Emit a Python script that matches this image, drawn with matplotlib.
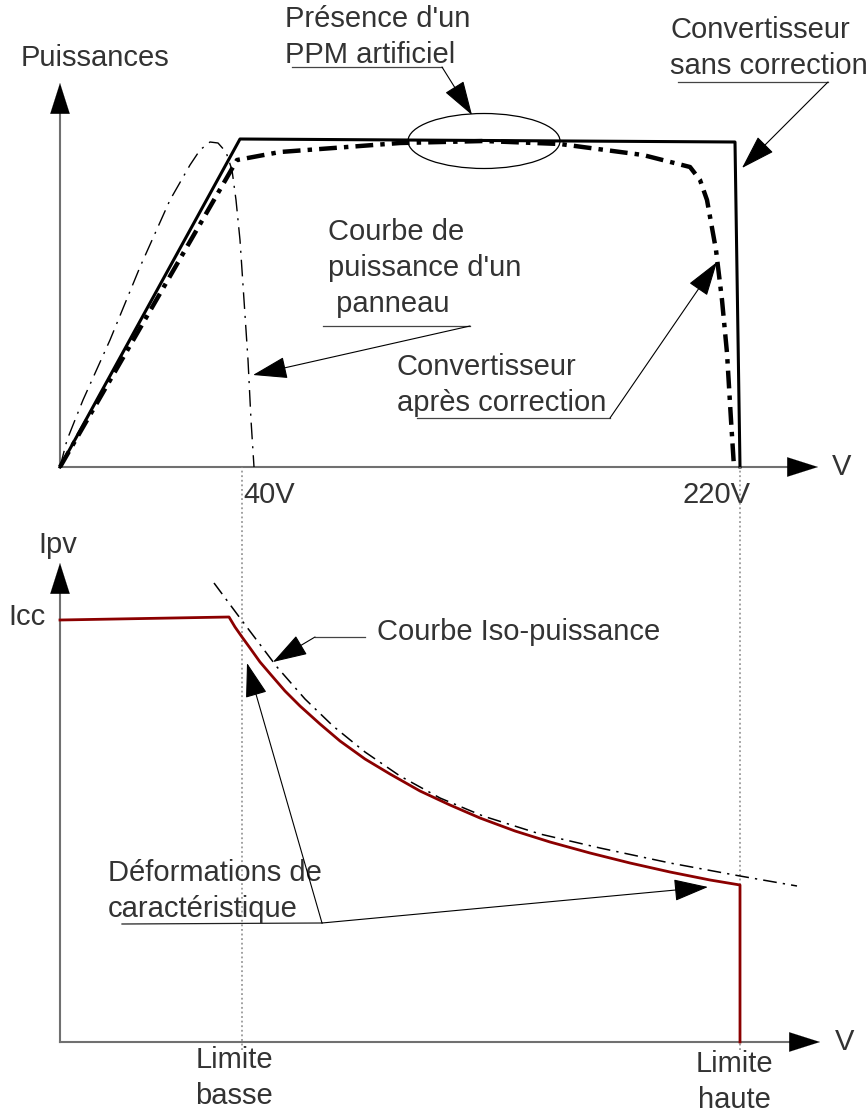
import matplotlib
matplotlib.use('Agg')
import matplotlib.pyplot as plt
from matplotlib.patches import Ellipse

plt.rcParams['font.family'] = ['Liberation Sans', 'DejaVu Sans']

# ---- haut : puissances (unités du schéma, origine au croisement des axes)
sans_corr_x = [0, 180, 675, 680]
sans_corr_y = [0, 328, 325, 0]

apres_corr_x = [0, 177, 220, 287, 340, 424, 500, 583, 630, 640, 647, 656, 662, 667, 671, 674]
apres_corr_y = [0, 307, 315, 320, 324, 326, 323, 312, 300, 287, 267, 217, 167, 114, 47, 0]

panneau_x = [0, 7, 23, 50, 80, 110, 130, 140, 150, 158, 166, 172, 176, 180, 184, 188, 191, 194]
panneau_y = [0, 27, 67, 127, 200, 267, 302, 317, 325, 324, 315, 297, 267, 227, 167, 107, 47, 0]

limites_x = [182, 680]
limites_txt = ['40V', '220V']

# ---- bas : courant Ipv
ipv_x = [0, 169, 175, 182, 190, 200, 212, 225, 240, 260, 280, 305, 330, 360, 390,
         420, 455, 490, 530, 570, 610, 650, 680, 680]
ipv_y = [422, 425, 415, 405, 394, 380, 366, 351, 336, 318, 301, 283, 268, 251, 237,
         224, 211, 200, 189, 179, 170, 162, 157, 0]

iso_x = [154, 180, 217, 245, 273, 305, 340, 380, 423, 480, 540, 610, 680, 737]
iso_y = [459, 424, 375, 343, 316, 290, 266, 244, 226, 208, 194, 179, 166, 156]

TXT = '#333333'
AXC = '#707070'
FS = 21
LS = 1.35


def fleche(ax, start, tip, lw=0.8, color='black'):
    ax.annotate('', xy=tip, xytext=start,
                arrowprops=dict(arrowstyle='-|>,head_length=2.2,head_width=0.7',
                                mutation_scale=10, lw=lw, color=color,
                                shrinkA=0, shrinkB=0))


def axes_fleches(ax, xmax, ymax):
    ax.plot([0, xmax - 28], [0, 0], color=AXC, lw=1.5)
    ax.plot([0, 0], [0, ymax - 28], color=AXC, lw=1.5)
    fleche(ax, (xmax - 30, 0), (xmax, 0), lw=0.1)
    fleche(ax, (0, ymax - 30), (0, ymax), lw=0.1)


def legende(ax, txt, pos, trait, tip):
    ax.text(pos[0], pos[1], txt, fontsize=FS, color=TXT, ha='left', va='center',
            linespacing=LS)
    ax.plot([trait[0], trait[1]], [trait[2], trait[2]], color='#444444', lw=0.9)
    fleche(ax, (trait[1], trait[2]), tip)


fig = plt.figure(figsize=(8.68, 11.13), dpi=100)
ax1 = fig.add_axes([0, 0, 1, 1])
ax2 = fig.add_axes([0, 0, 1, 1])
ax1.set_xlim(-60, 808)
ax1.set_ylim(467 - 1113, 467)
ax2.set_xlim(-60, 808)
ax2.set_ylim(1042 - 1113, 1042)
ax1.axis('off')
ax2.axis('off')

# --- panneau du haut
axes_fleches(ax1, 758, 384)
ax1.plot(panneau_x, panneau_y, color='black', lw=1.0, ls=(0, (12, 5, 1.5, 5)))
ax1.plot(sans_corr_x, sans_corr_y, color='black', lw=2.2)
ax1.plot(apres_corr_x, apres_corr_y, color='black', lw=3.2, ls=(0, (4, 1.6, 1, 1.6)))
ax1.add_patch(Ellipse((424, 326), 152, 55, fill=False, ec='black', lw=0.9))

ax1.text(35, 409, 'Puissances', fontsize=FS, color=TXT, ha='center', va='center')
ax1.text(772, 0, 'V', fontsize=FS, color=TXT, ha='left', va='center')
ax1.text(limites_x[0] + 1, -28, limites_txt[0], fontsize=FS, color=TXT, ha='left', va='center')
ax1.text(limites_x[1] + 10, -28, limites_txt[1], fontsize=FS, color=TXT, ha='right', va='center')

legende(ax1, "Présence d'un\nPPM artificiel", (225, 430), (232, 382, 400), (412, 352))
legende(ax1, "Convertisseur\nsans correction", (610, 419), (618, 768, 385), (682, 299))
legende(ax1, "Courbe de\npuissance d'un\n panneau", (268, 199), (263, 410, 141), (193, 92))
legende(ax1, "Convertisseur\naprès correction", (337, 82), (357, 550, 49), (657, 205))

# --- panneau du bas
for lx in limites_x:
    ax2.plot([lx, lx], [-8, 575], color='#888888', lw=1.1, ls=(0, (1.2, 1.8)))

axes_fleches(ax2, 760, 479)
ax2.plot(ipv_x, ipv_y, color='#8b0000', lw=2.0)
ax2.plot(iso_x, iso_y, color='black', lw=1.1, ls=(0, (9, 4, 1.5, 4)))

ax2.text(-2, 497, 'Ipv', fontsize=FS, color=TXT, ha='center', va='center')
ax2.text(-33, 425, 'Icc', fontsize=FS, color=TXT, ha='center', va='center')
ax2.text(775, 0, 'V', fontsize=FS, color=TXT, ha='left', va='center')
ax2.text(limites_x[0] - 8, -36, 'Limite\nbasse', fontsize=FS, color=TXT, ha='center',
         va='center', linespacing=LS)
ax2.text(limites_x[1] - 6, -40, 'Limite\nhaute', fontsize=FS, color=TXT, ha='center',
         va='center', linespacing=LS)

ax2.text(317, 410, 'Courbe Iso-puissance', fontsize=FS, color=TXT, ha='left', va='center')
ax2.plot([305, 255], [405, 405], color='#444444', lw=0.9)
fleche(ax2, (255, 405), (213, 380))

ax2.text(48, 151, 'Déformations de\ncaractéristique', fontsize=FS, color=TXT, ha='left',
         va='center', linespacing=LS)
ax2.plot([62, 262], [118, 119], color='#222222', lw=0.9)
fleche(ax2, (262, 119), (187, 379))
fleche(ax2, (262, 119), (648, 155))

fig.savefig('out.png', dpi=100)
